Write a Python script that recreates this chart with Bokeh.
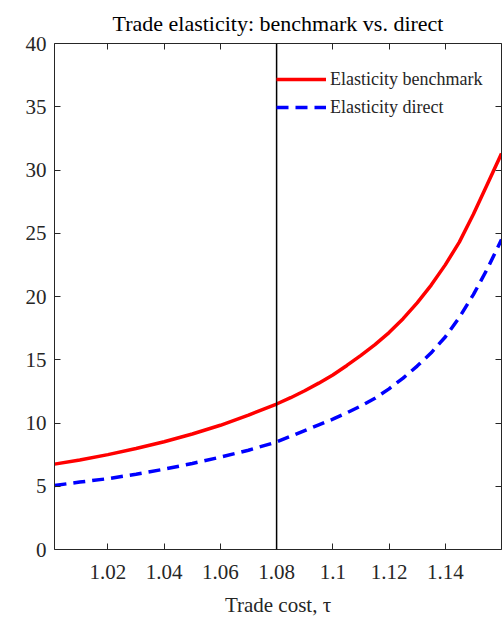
from bokeh.plotting import figure
from bokeh.models import (Range1d, FixedTicker, LinearAxis, Span, Legend, LegendItem,
                          ColumnDataSource, CustomLabelingPolicy)
from bokeh.embed import file_html
from bokeh.resources import INLINE

# Data
tau = [1.001, 1.01, 1.02, 1.03, 1.04, 1.05, 1.06, 1.07, 1.08, 1.085,
       1.09, 1.095, 1.10, 1.105, 1.11, 1.115, 1.12, 1.125, 1.13, 1.135,
       1.14, 1.145, 1.15, 1.155, 1.16]
elasticity_benchmark = [6.75, 7.08, 7.5, 7.98, 8.52, 9.13, 9.82, 10.62, 11.5, 12.0,
                        12.55, 13.15, 13.8, 14.55, 15.35, 16.2, 17.15, 18.25, 19.5, 20.9,
                        22.5, 24.3, 26.5, 28.9, 31.3]
elasticity_direct = [5.06, 5.33, 5.6, 5.95, 6.35, 6.8, 7.3, 7.85, 8.5, 8.95,
                     9.4, 9.85, 10.3, 10.8, 11.35, 11.95, 12.7, 13.55, 14.5, 15.55,
                     16.8, 18.35, 20.15, 22.2, 24.5]
x_ticks = [1.02, 1.04, 1.06, 1.08, 1.10, 1.12, 1.14]
x_tick_labels = ["1.02", "1.04", "1.06", "1.08", "1.1", "1.12", "1.14"]
y_ticks = [0, 5, 10, 15, 20, 25, 30, 35, 40]
vline_tau = 1.08

FONT = "Liberation Serif"
TXT = "#262626"

src = ColumnDataSource(dict(x=tau, b=elasticity_benchmark, d=elasticity_direct))

p = figure(width=502, height=624,
           x_range=Range1d(1.001, 1.16), y_range=Range1d(0, 40),
           output_backend="svg", toolbar_location=None,
           min_border_left=54, min_border_right=1,
           min_border_top=43, min_border_bottom=75,
           title="Trade elasticity: benchmark vs. direct")

p.title.align = "center"
p.title.text_font = FONT
p.title.text_font_size = "22px"
p.title.text_font_style = "normal"
p.title.text_color = "black"
p.title.standoff = 16

p.xgrid.visible = False
p.ygrid.visible = False
p.outline_line_color = None
p.background_fill_color = "white"
p.border_fill_color = "white"

xt = FixedTicker(ticks=x_ticks)
yt = FixedTicker(ticks=y_ticks)
overrides = {t: l for t, l in zip(x_ticks, x_tick_labels)}

no_labels = CustomLabelingPolicy(code="""
const idx = [...indices];
for (const i of idx) indices.unset(i);
return indices;
""")

def style_axis(ax, labels=True):
    ax.axis_line_color = TXT
    ax.axis_line_width = 1
    ax.major_tick_line_color = TXT
    ax.major_tick_in = 6
    ax.major_tick_out = 0
    ax.minor_tick_line_color = None
    ax.major_label_text_font = FONT
    ax.major_label_text_font_size = "21px"
    ax.major_label_text_color = TXT
    if not labels:
        ax.major_label_policy = no_labels
        ax.major_label_text_font_size = "0px"
        ax.major_label_standoff = 0

p.xaxis.ticker = xt
p.xaxis.major_label_overrides = overrides
p.yaxis.ticker = yt
style_axis(p.xaxis[0])
style_axis(p.yaxis[0])
p.xaxis.major_label_standoff = 15
p.yaxis.major_label_standoff = 8
p.xaxis.axis_label = "Trade cost, τ"
p.xaxis.axis_label_text_font = FONT
p.xaxis.axis_label_text_font_size = "21px"
p.xaxis.axis_label_text_font_style = "normal"
p.xaxis.axis_label_text_color = TXT
p.xaxis.axis_label_standoff = 11

top = LinearAxis(ticker=xt)
style_axis(top, labels=False)
p.add_layout(top, "above")
right = LinearAxis(ticker=yt)
style_axis(right, labels=False)
p.add_layout(right, "right")

p.add_layout(Span(location=vline_tau, dimension="height", line_color="black", line_width=1.5))

r1 = p.line("x", "b", source=src, line_color="red", line_width=3.5, line_join="round")
r2 = p.line("x", "d", source=src, line_color="blue", line_width=3.5, line_dash="12 7")

legend = Legend(items=[LegendItem(label="Elasticity benchmark", renderers=[r1]),
                       LegendItem(label="Elasticity direct", renderers=[r2])],
                location=(222, 428))
legend.padding = 0
legend.margin = 0
legend.spacing = 0
legend.border_line_color = None
legend.background_fill_alpha = 0
legend.glyph_width = 50
legend.glyph_height = 28
legend.label_height = 28
legend.label_standoff = 4
legend.label_text_font = FONT
legend.label_text_font_size = "18px"
legend.label_text_color = TXT
p.add_layout(legend)

open("out.html", "w").write(file_html(p, INLINE))
